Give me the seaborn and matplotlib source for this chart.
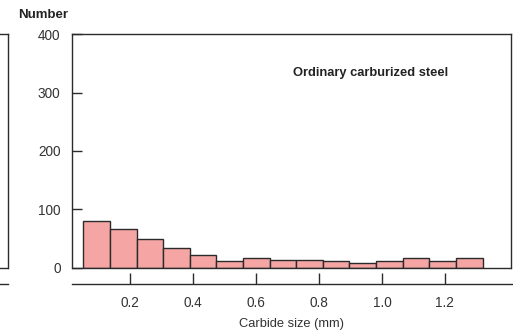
import numpy as np
import pandas as pd
import seaborn as sns
import matplotlib.pyplot as plt

# bin edges (mm) and counts
bin_start = 0.052
bin_width = 0.0845
counts = [80, 67, 49, 33, 21, 11, 17, 14, 14, 12, 8, 12, 17, 11, 17]
x_ticks = [0.2, 0.4, 0.6, 0.8, 1.0, 1.2]
y_ticks = [0, 100, 200, 300, 400]

n_bins = len(counts)
centers = bin_start + bin_width * (np.arange(n_bins) + 0.5)
df = pd.DataFrame({'size': centers, 'count': counts})

sns.set_style('white')
plt.rcParams['font.family'] = ['Liberation Sans', 'DejaVu Sans']
ink = '#2b2b2b'

fig = plt.figure(figsize=(5.13, 3.32), dpi=100)
ax = fig.add_axes([0.1398, 0.1937, 0.8563, 0.703])

sns.histplot(data=df, x='size', weights='count', binwidth=bin_width,
             binrange=(bin_start, bin_start + bin_width * n_bins), ax=ax,
             color='#f6a5a5', edgecolor=ink, linewidth=1.0, alpha=1)

ax.set_xlim(0.015, 1.41)
ax.set_ylim(0, 400)
ax.set_xticks(x_ticks)
ax.set_xticklabels(['{:.1f}'.format(t) for t in x_ticks])
ax.set_yticks(y_ticks)
ax.set_yticklabels([str(t) for t in y_ticks])
ax.set_ylabel('')
ax.set_xlabel('Carbide size (mm)', fontsize=9.3, color='#333333', labelpad=6)

for side in ['left', 'right', 'top', 'bottom']:
    ax.spines[side].set_color(ink)
    ax.spines[side].set_linewidth(1.0)
    ax.spines[side].set_visible(True)
ax.spines['bottom'].set_position(('outward', 11.5))
ax.spines['bottom'].set_bounds(0.015, 1.5)
ax.spines['bottom'].set_clip_on(False)
ax.axhline(0, color=ink, linewidth=1.0, clip_on=False)

ax.tick_params(axis='y', direction='in', length=7, width=1, color=ink,
               labelsize=9.8, labelcolor='#333333', pad=8, left=True)
ax.tick_params(axis='x', direction='in', length=7.6, width=1, color=ink,
               labelsize=9.8, labelcolor='#333333', pad=9, bottom=True)

ax.text(0.68, 0.835, 'Ordinary carburized steel', transform=ax.transAxes,
        ha='center', va='center', fontsize=9.3, fontweight='bold', color='#222222')
fig.text(43 / 513, 1 - 15 / 332, 'Number', ha='center', va='center',
         fontsize=9.5, fontweight='bold', color='#222222')

# right edge of the neighbouring panel, cut off by the figure border
ax2 = fig.add_axes([-0.5, 0.1937, 0.5 + 8 / 513, 0.703])
ax2.set_xticks([])
ax2.set_yticks([])
ax2.spines['left'].set_visible(False)
for side in ['right', 'top', 'bottom']:
    ax2.spines[side].set_color(ink)
    ax2.spines[side].set_linewidth(1.0)
ax2.spines['bottom'].set_position(('outward', 11.5))
ax2.axhline(0, color=ink, linewidth=1.0, clip_on=False)

fig.savefig('out.png', dpi=100)
